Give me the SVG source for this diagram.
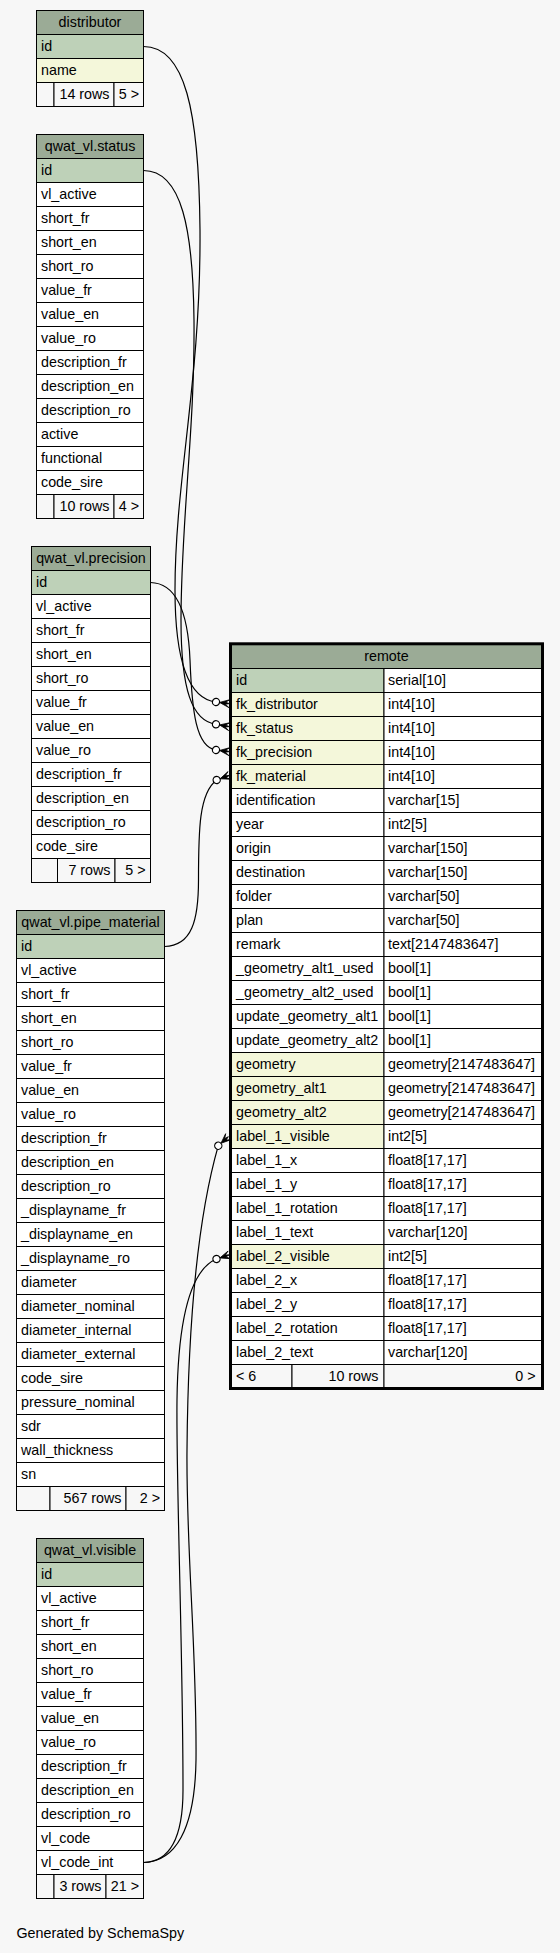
<svg xmlns="http://www.w3.org/2000/svg" width="560" height="1953" viewBox="0 0 560 1953">
<style>
.bg{fill:#f7f7f7}
rect.hd,rect.pk,rect.ix,rect.bd,rect.ft{stroke:#000;stroke-width:1}
.hd{fill:#9bab96}
.pk{fill:#bed1b8}
.ix{fill:#f4f7da}
.bd{fill:#ffffff}
.ft{fill:#f7f7f7}
text{font-family:"Liberation Sans",Arial,Helvetica,sans-serif;font-size:14.3px;fill:#000}
.c{text-anchor:middle}
.r{text-anchor:end}
.edge{fill:none;stroke:#000;stroke-width:1.2}
.dot{fill:#ffffff;stroke:#000;stroke-width:1.2}
.crow{fill:#000;stroke:#000;stroke-width:0.8;stroke-linejoin:miter}
.outer{fill:none;stroke:#000;stroke-width:3}
</style>
<defs>
<g id="crowdot">
<path class="crow" d="M3.6,0 L13.5,-4 L9.5,-1 L13.5,0 L9.5,1 L13.5,4 Z"/>
<circle class="dot" cx="0" cy="0" r="3.6"/>
</g>
</defs>
<rect class="bg" x="0" y="0" width="560" height="1953"/>

<g id="connectors">
<path class="edge" d="M143.5,46.5 C185,46.5 199,110 200,230 C201,380 175,480 175,590 C175,665 190,699 216,702"/>
<path class="edge" d="M143.5,170.5 C182,170.5 193,230 194,320 C195,430 181,520 181,620 C181,690 192,721 216,724.3"/>
<path class="edge" d="M150.5,582.5 C175,583 188,610 190,660 C192,712 196,747 216,750"/>
<path class="edge" d="M164.5,946.5 C192,946 198.5,920 198.5,880 C198.5,830 199,793 216.7,780"/>
<path class="edge" d="M143.5,1862.5 C175,1862 195,1830 196,1760 C197,1650 186,1550 187,1450 C188,1330 197,1220 218.3,1145.7"/>
<path class="edge" d="M143.5,1862.5 C168,1862 183,1840 183,1790 C183,1650 176,1480 177,1400 C178,1320 190,1270 216.5,1259"/>
<use href="#crowdot" transform="translate(216,702) rotate(7)"/>
<use href="#crowdot" transform="translate(216,724.3) rotate(10)"/>
<use href="#crowdot" transform="translate(216,750) rotate(7)"/>
<use href="#crowdot" transform="translate(216.7,780) rotate(-20)"/>
<use href="#crowdot" transform="translate(218.3,1145.7) rotate(-42)"/>
<use href="#crowdot" transform="translate(216.5,1259) rotate(-18)"/>
</g>

<g id="distributor">
<rect class="hd" x="36.5" y="10.5" width="107" height="24"/>
<text class="c" x="90" y="27">distributor</text>
<rect class="pk" x="36.5" y="34.5" width="107" height="24"/>
<text x="41" y="50.5">id</text>
<rect class="ix" x="36.5" y="58.5" width="107" height="24"/>
<text x="41" y="74.5">name</text>
<rect class="ft" x="36.5" y="82.5" width="17.5" height="24"/>
<rect class="ft" x="54" y="82.5" width="60" height="24"/>
<rect class="ft" x="114" y="82.5" width="29.5" height="24"/>
<text class="r" x="109.5" y="98.5">14 rows</text>
<text class="r" x="139" y="98.5">5 &gt;</text>
</g>

<g id="qwat_vl.status">
<rect class="hd" x="36.5" y="134.5" width="107" height="24"/>
<text class="c" x="90" y="151">qwat_vl.status</text>
<rect class="pk" x="36.5" y="158.5" width="107" height="24"/>
<text x="41" y="174.5">id</text>
<rect class="bd" x="36.5" y="182.5" width="107" height="24"/>
<text x="41" y="198.5">vl_active</text>
<rect class="bd" x="36.5" y="206.5" width="107" height="24"/>
<text x="41" y="222.5">short_fr</text>
<rect class="bd" x="36.5" y="230.5" width="107" height="24"/>
<text x="41" y="246.5">short_en</text>
<rect class="bd" x="36.5" y="254.5" width="107" height="24"/>
<text x="41" y="270.5">short_ro</text>
<rect class="bd" x="36.5" y="278.5" width="107" height="24"/>
<text x="41" y="294.5">value_fr</text>
<rect class="bd" x="36.5" y="302.5" width="107" height="24"/>
<text x="41" y="318.5">value_en</text>
<rect class="bd" x="36.5" y="326.5" width="107" height="24"/>
<text x="41" y="342.5">value_ro</text>
<rect class="bd" x="36.5" y="350.5" width="107" height="24"/>
<text x="41" y="366.5">description_fr</text>
<rect class="bd" x="36.5" y="374.5" width="107" height="24"/>
<text x="41" y="390.5">description_en</text>
<rect class="bd" x="36.5" y="398.5" width="107" height="24"/>
<text x="41" y="414.5">description_ro</text>
<rect class="bd" x="36.5" y="422.5" width="107" height="24"/>
<text x="41" y="438.5">active</text>
<rect class="bd" x="36.5" y="446.5" width="107" height="24"/>
<text x="41" y="462.5">functional</text>
<rect class="bd" x="36.5" y="470.5" width="107" height="24"/>
<text x="41" y="486.5">code_sire</text>
<rect class="ft" x="36.5" y="494.5" width="17.5" height="24"/>
<rect class="ft" x="54" y="494.5" width="60" height="24"/>
<rect class="ft" x="114" y="494.5" width="29.5" height="24"/>
<text class="r" x="109.5" y="510.5">10 rows</text>
<text class="r" x="139" y="510.5">4 &gt;</text>
</g>

<g id="qwat_vl.precision">
<rect class="hd" x="31.5" y="546.5" width="119" height="24"/>
<text class="c" x="91" y="563">qwat_vl.precision</text>
<rect class="pk" x="31.5" y="570.5" width="119" height="24"/>
<text x="36" y="586.5">id</text>
<rect class="bd" x="31.5" y="594.5" width="119" height="24"/>
<text x="36" y="610.5">vl_active</text>
<rect class="bd" x="31.5" y="618.5" width="119" height="24"/>
<text x="36" y="634.5">short_fr</text>
<rect class="bd" x="31.5" y="642.5" width="119" height="24"/>
<text x="36" y="658.5">short_en</text>
<rect class="bd" x="31.5" y="666.5" width="119" height="24"/>
<text x="36" y="682.5">short_ro</text>
<rect class="bd" x="31.5" y="690.5" width="119" height="24"/>
<text x="36" y="706.5">value_fr</text>
<rect class="bd" x="31.5" y="714.5" width="119" height="24"/>
<text x="36" y="730.5">value_en</text>
<rect class="bd" x="31.5" y="738.5" width="119" height="24"/>
<text x="36" y="754.5">value_ro</text>
<rect class="bd" x="31.5" y="762.5" width="119" height="24"/>
<text x="36" y="778.5">description_fr</text>
<rect class="bd" x="31.5" y="786.5" width="119" height="24"/>
<text x="36" y="802.5">description_en</text>
<rect class="bd" x="31.5" y="810.5" width="119" height="24"/>
<text x="36" y="826.5">description_ro</text>
<rect class="bd" x="31.5" y="834.5" width="119" height="24"/>
<text x="36" y="850.5">code_sire</text>
<rect class="ft" x="31.5" y="858.5" width="26" height="24"/>
<rect class="ft" x="57.5" y="858.5" width="57.5" height="24"/>
<rect class="ft" x="115" y="858.5" width="35.5" height="24"/>
<text class="r" x="110.5" y="874.5">7 rows</text>
<text class="r" x="145.5" y="874.5">5 &gt;</text>
</g>

<g id="qwat_vl.pipe_material">
<rect class="hd" x="16.5" y="910.5" width="148" height="24"/>
<text class="c" x="90.5" y="927">qwat_vl.pipe_material</text>
<rect class="pk" x="16.5" y="934.5" width="148" height="24"/>
<text x="21" y="950.5">id</text>
<rect class="bd" x="16.5" y="958.5" width="148" height="24"/>
<text x="21" y="974.5">vl_active</text>
<rect class="bd" x="16.5" y="982.5" width="148" height="24"/>
<text x="21" y="998.5">short_fr</text>
<rect class="bd" x="16.5" y="1006.5" width="148" height="24"/>
<text x="21" y="1022.5">short_en</text>
<rect class="bd" x="16.5" y="1030.5" width="148" height="24"/>
<text x="21" y="1046.5">short_ro</text>
<rect class="bd" x="16.5" y="1054.5" width="148" height="24"/>
<text x="21" y="1070.5">value_fr</text>
<rect class="bd" x="16.5" y="1078.5" width="148" height="24"/>
<text x="21" y="1094.5">value_en</text>
<rect class="bd" x="16.5" y="1102.5" width="148" height="24"/>
<text x="21" y="1118.5">value_ro</text>
<rect class="bd" x="16.5" y="1126.5" width="148" height="24"/>
<text x="21" y="1142.5">description_fr</text>
<rect class="bd" x="16.5" y="1150.5" width="148" height="24"/>
<text x="21" y="1166.5">description_en</text>
<rect class="bd" x="16.5" y="1174.5" width="148" height="24"/>
<text x="21" y="1190.5">description_ro</text>
<rect class="bd" x="16.5" y="1198.5" width="148" height="24"/>
<text x="21" y="1214.5">_displayname_fr</text>
<rect class="bd" x="16.5" y="1222.5" width="148" height="24"/>
<text x="21" y="1238.5">_displayname_en</text>
<rect class="bd" x="16.5" y="1246.5" width="148" height="24"/>
<text x="21" y="1262.5">_displayname_ro</text>
<rect class="bd" x="16.5" y="1270.5" width="148" height="24"/>
<text x="21" y="1286.5">diameter</text>
<rect class="bd" x="16.5" y="1294.5" width="148" height="24"/>
<text x="21" y="1310.5">diameter_nominal</text>
<rect class="bd" x="16.5" y="1318.5" width="148" height="24"/>
<text x="21" y="1334.5">diameter_internal</text>
<rect class="bd" x="16.5" y="1342.5" width="148" height="24"/>
<text x="21" y="1358.5">diameter_external</text>
<rect class="bd" x="16.5" y="1366.5" width="148" height="24"/>
<text x="21" y="1382.5">code_sire</text>
<rect class="bd" x="16.5" y="1390.5" width="148" height="24"/>
<text x="21" y="1406.5">pressure_nominal</text>
<rect class="bd" x="16.5" y="1414.5" width="148" height="24"/>
<text x="21" y="1430.5">sdr</text>
<rect class="bd" x="16.5" y="1438.5" width="148" height="24"/>
<text x="21" y="1454.5">wall_thickness</text>
<rect class="bd" x="16.5" y="1462.5" width="148" height="24"/>
<text x="21" y="1478.5">sn</text>
<rect class="ft" x="16.5" y="1486.5" width="33.5" height="24"/>
<rect class="ft" x="50" y="1486.5" width="76" height="24"/>
<rect class="ft" x="126" y="1486.5" width="38.5" height="24"/>
<text class="r" x="121.5" y="1502.5">567 rows</text>
<text class="r" x="160" y="1502.5">2 &gt;</text>
</g>

<g id="qwat_vl.visible">
<rect class="hd" x="36.5" y="1538.5" width="107" height="24"/>
<text class="c" x="90" y="1555">qwat_vl.visible</text>
<rect class="pk" x="36.5" y="1562.5" width="107" height="24"/>
<text x="41" y="1578.5">id</text>
<rect class="bd" x="36.5" y="1586.5" width="107" height="24"/>
<text x="41" y="1602.5">vl_active</text>
<rect class="bd" x="36.5" y="1610.5" width="107" height="24"/>
<text x="41" y="1626.5">short_fr</text>
<rect class="bd" x="36.5" y="1634.5" width="107" height="24"/>
<text x="41" y="1650.5">short_en</text>
<rect class="bd" x="36.5" y="1658.5" width="107" height="24"/>
<text x="41" y="1674.5">short_ro</text>
<rect class="bd" x="36.5" y="1682.5" width="107" height="24"/>
<text x="41" y="1698.5">value_fr</text>
<rect class="bd" x="36.5" y="1706.5" width="107" height="24"/>
<text x="41" y="1722.5">value_en</text>
<rect class="bd" x="36.5" y="1730.5" width="107" height="24"/>
<text x="41" y="1746.5">value_ro</text>
<rect class="bd" x="36.5" y="1754.5" width="107" height="24"/>
<text x="41" y="1770.5">description_fr</text>
<rect class="bd" x="36.5" y="1778.5" width="107" height="24"/>
<text x="41" y="1794.5">description_en</text>
<rect class="bd" x="36.5" y="1802.5" width="107" height="24"/>
<text x="41" y="1818.5">description_ro</text>
<rect class="bd" x="36.5" y="1826.5" width="107" height="24"/>
<text x="41" y="1842.5">vl_code</text>
<rect class="bd" x="36.5" y="1850.5" width="107" height="24"/>
<text x="41" y="1866.5">vl_code_int</text>
<rect class="ft" x="36.5" y="1874.5" width="17.5" height="24"/>
<rect class="ft" x="54" y="1874.5" width="52" height="24"/>
<rect class="ft" x="106" y="1874.5" width="37.5" height="24"/>
<text class="r" x="101.5" y="1890.5">3 rows</text>
<text class="r" x="139" y="1890.5">21 &gt;</text>
</g>

<g id="remote">
<rect class="hd" x="231" y="644" width="311.5" height="24.5"/>
<text class="c" x="386.5" y="660.5">remote</text>
<rect class="pk" x="231" y="668.5" width="153" height="24"/><rect class="bd" x="384" y="668.5" width="158.5" height="24"/>
<text x="236" y="684.5">id</text><text x="388" y="684.5">serial[10]</text>
<rect class="ix" x="231" y="692.5" width="153" height="24"/><rect class="bd" x="384" y="692.5" width="158.5" height="24"/>
<text x="236" y="708.5">fk_distributor</text><text x="388" y="708.5">int4[10]</text>
<rect class="ix" x="231" y="716.5" width="153" height="24"/><rect class="bd" x="384" y="716.5" width="158.5" height="24"/>
<text x="236" y="732.5">fk_status</text><text x="388" y="732.5">int4[10]</text>
<rect class="ix" x="231" y="740.5" width="153" height="24"/><rect class="bd" x="384" y="740.5" width="158.5" height="24"/>
<text x="236" y="756.5">fk_precision</text><text x="388" y="756.5">int4[10]</text>
<rect class="ix" x="231" y="764.5" width="153" height="24"/><rect class="bd" x="384" y="764.5" width="158.5" height="24"/>
<text x="236" y="780.5">fk_material</text><text x="388" y="780.5">int4[10]</text>
<rect class="bd" x="231" y="788.5" width="153" height="24"/><rect class="bd" x="384" y="788.5" width="158.5" height="24"/>
<text x="236" y="804.5">identification</text><text x="388" y="804.5">varchar[15]</text>
<rect class="bd" x="231" y="812.5" width="153" height="24"/><rect class="bd" x="384" y="812.5" width="158.5" height="24"/>
<text x="236" y="828.5">year</text><text x="388" y="828.5">int2[5]</text>
<rect class="bd" x="231" y="836.5" width="153" height="24"/><rect class="bd" x="384" y="836.5" width="158.5" height="24"/>
<text x="236" y="852.5">origin</text><text x="388" y="852.5">varchar[150]</text>
<rect class="bd" x="231" y="860.5" width="153" height="24"/><rect class="bd" x="384" y="860.5" width="158.5" height="24"/>
<text x="236" y="876.5">destination</text><text x="388" y="876.5">varchar[150]</text>
<rect class="bd" x="231" y="884.5" width="153" height="24"/><rect class="bd" x="384" y="884.5" width="158.5" height="24"/>
<text x="236" y="900.5">folder</text><text x="388" y="900.5">varchar[50]</text>
<rect class="bd" x="231" y="908.5" width="153" height="24"/><rect class="bd" x="384" y="908.5" width="158.5" height="24"/>
<text x="236" y="924.5">plan</text><text x="388" y="924.5">varchar[50]</text>
<rect class="bd" x="231" y="932.5" width="153" height="24"/><rect class="bd" x="384" y="932.5" width="158.5" height="24"/>
<text x="236" y="948.5">remark</text><text x="388" y="948.5">text[2147483647]</text>
<rect class="bd" x="231" y="956.5" width="153" height="24"/><rect class="bd" x="384" y="956.5" width="158.5" height="24"/>
<text x="236" y="972.5">_geometry_alt1_used</text><text x="388" y="972.5">bool[1]</text>
<rect class="bd" x="231" y="980.5" width="153" height="24"/><rect class="bd" x="384" y="980.5" width="158.5" height="24"/>
<text x="236" y="996.5">_geometry_alt2_used</text><text x="388" y="996.5">bool[1]</text>
<rect class="bd" x="231" y="1004.5" width="153" height="24"/><rect class="bd" x="384" y="1004.5" width="158.5" height="24"/>
<text x="236" y="1020.5">update_geometry_alt1</text><text x="388" y="1020.5">bool[1]</text>
<rect class="bd" x="231" y="1028.5" width="153" height="24"/><rect class="bd" x="384" y="1028.5" width="158.5" height="24"/>
<text x="236" y="1044.5">update_geometry_alt2</text><text x="388" y="1044.5">bool[1]</text>
<rect class="ix" x="231" y="1052.5" width="153" height="24"/><rect class="bd" x="384" y="1052.5" width="158.5" height="24"/>
<text x="236" y="1068.5">geometry</text><text x="388" y="1068.5">geometry[2147483647]</text>
<rect class="ix" x="231" y="1076.5" width="153" height="24"/><rect class="bd" x="384" y="1076.5" width="158.5" height="24"/>
<text x="236" y="1092.5">geometry_alt1</text><text x="388" y="1092.5">geometry[2147483647]</text>
<rect class="ix" x="231" y="1100.5" width="153" height="24"/><rect class="bd" x="384" y="1100.5" width="158.5" height="24"/>
<text x="236" y="1116.5">geometry_alt2</text><text x="388" y="1116.5">geometry[2147483647]</text>
<rect class="ix" x="231" y="1124.5" width="153" height="24"/><rect class="bd" x="384" y="1124.5" width="158.5" height="24"/>
<text x="236" y="1140.5">label_1_visible</text><text x="388" y="1140.5">int2[5]</text>
<rect class="bd" x="231" y="1148.5" width="153" height="24"/><rect class="bd" x="384" y="1148.5" width="158.5" height="24"/>
<text x="236" y="1164.5">label_1_x</text><text x="388" y="1164.5">float8[17,17]</text>
<rect class="bd" x="231" y="1172.5" width="153" height="24"/><rect class="bd" x="384" y="1172.5" width="158.5" height="24"/>
<text x="236" y="1188.5">label_1_y</text><text x="388" y="1188.5">float8[17,17]</text>
<rect class="bd" x="231" y="1196.5" width="153" height="24"/><rect class="bd" x="384" y="1196.5" width="158.5" height="24"/>
<text x="236" y="1212.5">label_1_rotation</text><text x="388" y="1212.5">float8[17,17]</text>
<rect class="bd" x="231" y="1220.5" width="153" height="24"/><rect class="bd" x="384" y="1220.5" width="158.5" height="24"/>
<text x="236" y="1236.5">label_1_text</text><text x="388" y="1236.5">varchar[120]</text>
<rect class="ix" x="231" y="1244.5" width="153" height="24"/><rect class="bd" x="384" y="1244.5" width="158.5" height="24"/>
<text x="236" y="1260.5">label_2_visible</text><text x="388" y="1260.5">int2[5]</text>
<rect class="bd" x="231" y="1268.5" width="153" height="24"/><rect class="bd" x="384" y="1268.5" width="158.5" height="24"/>
<text x="236" y="1284.5">label_2_x</text><text x="388" y="1284.5">float8[17,17]</text>
<rect class="bd" x="231" y="1292.5" width="153" height="24"/><rect class="bd" x="384" y="1292.5" width="158.5" height="24"/>
<text x="236" y="1308.5">label_2_y</text><text x="388" y="1308.5">float8[17,17]</text>
<rect class="bd" x="231" y="1316.5" width="153" height="24"/><rect class="bd" x="384" y="1316.5" width="158.5" height="24"/>
<text x="236" y="1332.5">label_2_rotation</text><text x="388" y="1332.5">float8[17,17]</text>
<rect class="bd" x="231" y="1340.5" width="153" height="24"/><rect class="bd" x="384" y="1340.5" width="158.5" height="24"/>
<text x="236" y="1356.5">label_2_text</text><text x="388" y="1356.5">varchar[120]</text>
<rect class="ft" x="231" y="1364.5" width="61" height="24"/>
<rect class="ft" x="292" y="1364.5" width="92" height="24"/>
<rect class="ft" x="384" y="1364.5" width="158.5" height="24"/>
<text x="236" y="1380.5">&lt; 6</text>
<text class="r" x="378.5" y="1380.5">10 rows</text>
<text class="r" x="535.5" y="1380.5">0 &gt;</text>
<rect class="outer" x="230.5" y="643.8" width="312" height="744.7"/>
</g>

<text x="16.5" y="1938">Generated by SchemaSpy</text>
</svg>
